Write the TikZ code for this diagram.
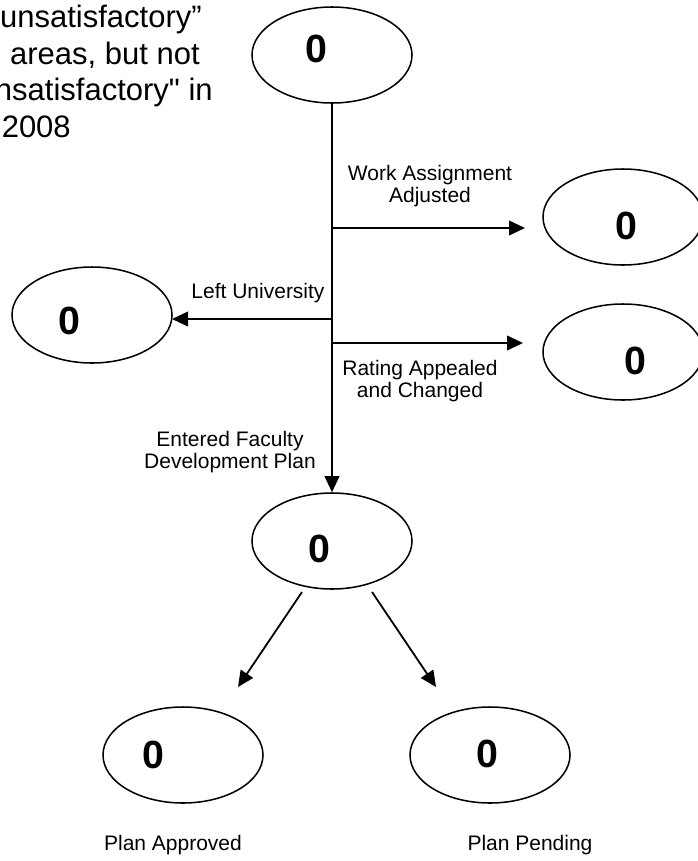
\documentclass[tikz,border=0pt]{standalone}
\usepackage{fontspec}
\setmainfont{Liberation Sans}
\newfontfamily\rawfont{Liberation Sans}
\usetikzlibrary{shapes.geometric,arrows.meta}
\tikzset{
  oval/.style={ellipse, draw, line width=1.15pt, minimum width=120pt, minimum height=72pt, inner sep=0pt},
  num/.style={font=\fontsize{29.5pt}{31pt}\selectfont\bfseries, inner sep=0pt},
  arr/.style={line width=1.35pt, -{Triangle[length=12pt,width=11pt]}},
  lbl/.style={font=\fontsize{15.75pt}{16.5pt}\selectfont, align=center, inner sep=0pt},
  big/.style={font=\fontsize{23.25pt}{27.75pt}\selectfont, inner sep=0pt, anchor=base east}
}
\begin{document}
\begin{tikzpicture}[x=0.75pt,y=-0.75pt]
\useasboundingbox (0,0) rectangle (697,861);
% top-left text
\node[big] (t1) at (202,27) {unsatisfactory”};
\node[big] (t2) at (200,64) {areas, but not};
\node[big] (t3) at (213,100) {\rawfont nsatisfactory" in};
\node[big] (t4) at (71,137) {2008};
% ellipses
\node[oval, label={[num, shift={(-16,-6)}]center:0}] (top) at (332,55) {};
\node[oval, label={[num, shift={(3,9)}]center:0}] (r1) at (623,217) {};
\node[oval, label={[num, shift={(-23,6)}]center:0}] (lft) at (92,315) {};
\node[oval, label={[num, shift={(12,9)}]center:0}] (r2) at (623,352) {};
\node[oval, label={[num, shift={(-13,8)}]center:0}] (mid) at (332,541) {};
\node[oval, label={[num, shift={(-30,0)}]center:0}] (bl) at (183,755) {};
\node[oval, label={[num, shift={(-3,-1)}]center:0}] (br) at (490,755) {};
% connector coordinates
\coordinate (b1) at (332,228);
\coordinate (e1) at (525,228);
\coordinate (b2) at (332,319);
\coordinate (e2) at (172,319);
\coordinate (b3) at (332,343);
\coordinate (e3) at (523,343);
\coordinate (d1) at (302,592);
\coordinate (f1) at (238,687);
\coordinate (d2) at (372,592);
\coordinate (f2) at (436,687);
% connectors
\draw[arr] (top) -- (mid);
\draw[arr] (b1) -- (e1);
\draw[arr] (b2) -- (e2);
\draw[arr] (b3) -- (e3);
\draw[arr] (d1) -- (f1);
\draw[arr] (d2) -- (f2);
% labels
\node[lbl] (lw) at (430,186) {Work Assignment\\Adjusted};
\node[lbl] (ll) at (258,293) {Left University};
\node[lbl] (lr) at (420,381) {Rating Appealed\\and Changed};
\node[lbl] (le) at (230,452) {Entered Faculty\\Development Plan};
\node[lbl] (lpa) at (173,845) {Plan Approved};
\node[lbl] (lpp) at (530,845) {Plan Pending};
\end{tikzpicture}
\end{document}
